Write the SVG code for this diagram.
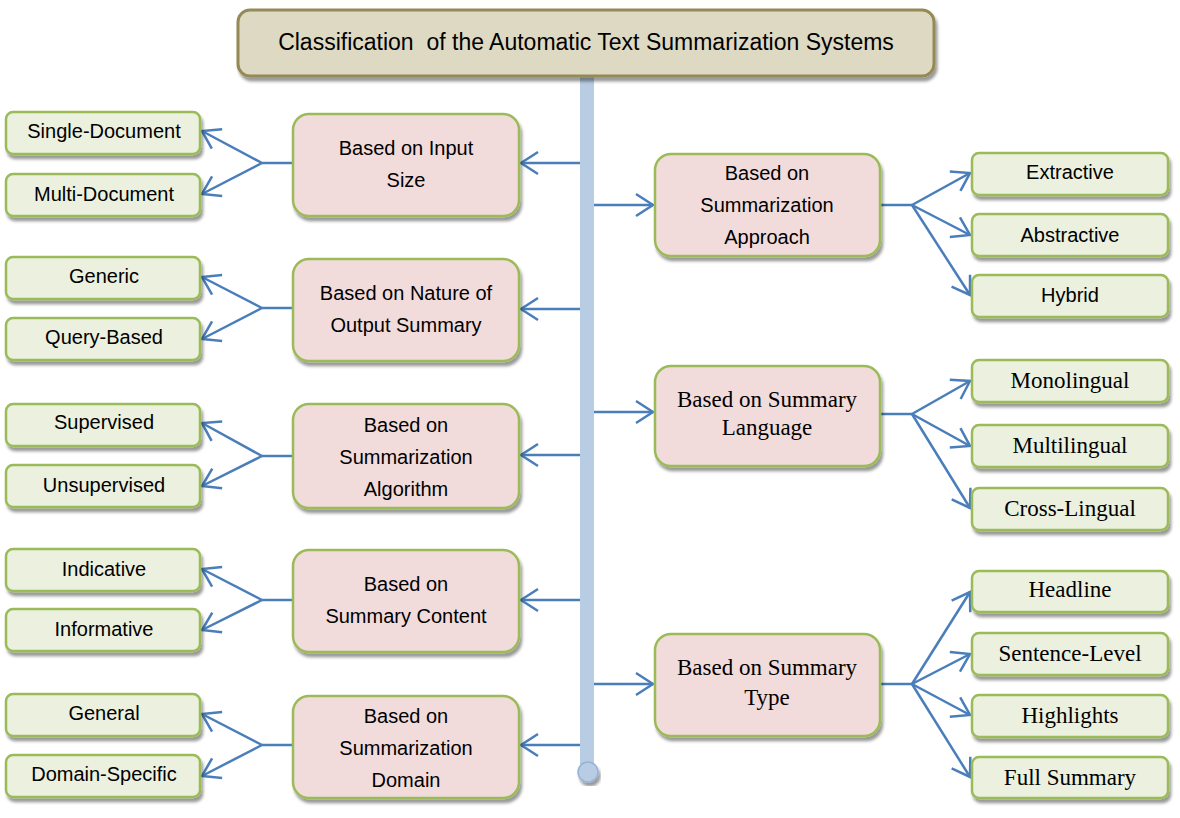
<svg xmlns="http://www.w3.org/2000/svg" width="1180" height="818" viewBox="0 0 1180 818">
<style>
.title{fill:#ddd9c3;stroke:#948a54;stroke-width:3}
.cat{fill:#f2dcdb;stroke:#9bbb59;stroke-width:2.5}
.leaf{fill:#ebf1de;stroke:#9bbb59;stroke-width:2.5}
.sans{font-family:"Liberation Sans",Arial,sans-serif;fill:#000;text-anchor:middle;font-size:20px}
.serif{font-family:"Liberation Serif","Times New Roman",serif;fill:#000;text-anchor:middle;font-size:23px}
.c{fill:none;stroke:#4a7ebb;stroke-width:2.5}
</style>
<defs>
<filter id="sh" x="-10%" y="-10%" width="125%" height="130%">
<feDropShadow dx="2" dy="4" stdDeviation="1.5" flood-color="#000" flood-opacity="0.4"/>
</filter>
<marker id="ah" markerUnits="userSpaceOnUse" markerWidth="22" markerHeight="26" viewBox="0 0 22 26" refX="19" refY="13" orient="auto">
<path d="M2,2 L19,13 L2,24" fill="none" stroke="#4a7ebb" stroke-width="2.5"/>
</marker>
</defs>
<rect width="1180" height="818" fill="#fff"/>

<g id="bar">
<rect x="580" y="74" width="14" height="698" fill="#b8cce4"/>
<circle cx="588" cy="772" r="10" fill="#b8cce4" stroke="#95b3d7" stroke-width="1.5" filter="url(#sh)"/>
</g>

<g id="title">
<rect class="title" x="238" y="10" width="696" height="66" rx="12" filter="url(#sh)"/>
<text class="sans" x="586" y="50" style="font-size:23px" xml:space="preserve">Classification  of the Automatic Text Summarization Systems</text>
</g>

<g id="connectors">
<line class="c" x1="580" y1="163" x2="521" y2="163" marker-end="url(#ah)"/>
<line class="c" x1="580" y1="309" x2="521" y2="309" marker-end="url(#ah)"/>
<line class="c" x1="580" y1="455" x2="521" y2="455" marker-end="url(#ah)"/>
<line class="c" x1="580" y1="600" x2="521" y2="600" marker-end="url(#ah)"/>
<line class="c" x1="580" y1="745" x2="521" y2="745" marker-end="url(#ah)"/>
<line class="c" x1="594" y1="205" x2="653" y2="205" marker-end="url(#ah)"/>
<line class="c" x1="594" y1="412" x2="653" y2="412" marker-end="url(#ah)"/>
<line class="c" x1="594" y1="684" x2="653" y2="684" marker-end="url(#ah)"/>
<polyline class="c" points="293,163 262,163"/>
<line class="c" x1="262" y1="163" x2="202" y2="131" marker-end="url(#ah)"/>
<line class="c" x1="262" y1="163" x2="202" y2="194" marker-end="url(#ah)"/>
<polyline class="c" points="293,308 262,308"/>
<line class="c" x1="262" y1="308" x2="202" y2="277" marker-end="url(#ah)"/>
<line class="c" x1="262" y1="308" x2="202" y2="339" marker-end="url(#ah)"/>
<polyline class="c" points="293,456 262,456"/>
<line class="c" x1="262" y1="456" x2="202" y2="423" marker-end="url(#ah)"/>
<line class="c" x1="262" y1="456" x2="202" y2="486" marker-end="url(#ah)"/>
<polyline class="c" points="293,600 262,600"/>
<line class="c" x1="262" y1="600" x2="202" y2="569" marker-end="url(#ah)"/>
<line class="c" x1="262" y1="600" x2="202" y2="630" marker-end="url(#ah)"/>
<polyline class="c" points="293,745 262,745"/>
<line class="c" x1="262" y1="745" x2="202" y2="714" marker-end="url(#ah)"/>
<line class="c" x1="262" y1="745" x2="202" y2="776" marker-end="url(#ah)"/>
<polyline class="c" points="880,205 912,205"/>
<line class="c" x1="912" y1="205" x2="970" y2="173" marker-end="url(#ah)"/>
<line class="c" x1="912" y1="205" x2="970" y2="235" marker-end="url(#ah)"/>
<line class="c" x1="912" y1="205" x2="970" y2="295" marker-end="url(#ah)"/>
<polyline class="c" points="880,414 912,414"/>
<line class="c" x1="912" y1="414" x2="970" y2="381" marker-end="url(#ah)"/>
<line class="c" x1="912" y1="414" x2="970" y2="446" marker-end="url(#ah)"/>
<line class="c" x1="912" y1="414" x2="970" y2="508" marker-end="url(#ah)"/>
<polyline class="c" points="880,684 912,684"/>
<line class="c" x1="912" y1="684" x2="970" y2="592" marker-end="url(#ah)"/>
<line class="c" x1="912" y1="684" x2="970" y2="654" marker-end="url(#ah)"/>
<line class="c" x1="912" y1="684" x2="970" y2="715" marker-end="url(#ah)"/>
<line class="c" x1="912" y1="684" x2="970" y2="777" marker-end="url(#ah)"/>
</g>

<g id="input-size">
<rect class="cat" x="293" y="114" width="226" height="102" rx="16" filter="url(#sh)"/>
<text class="sans" x="406" y="155">Based on Input</text>
<text class="sans" x="406" y="187">Size</text>
</g>
<g id="nature-output">
<rect class="cat" x="293" y="259" width="226" height="102" rx="16" filter="url(#sh)"/>
<text class="sans" x="406" y="300">Based on Nature of</text>
<text class="sans" x="406" y="332">Output Summary</text>
</g>
<g id="algorithm">
<rect class="cat" x="293" y="404" width="226" height="104" rx="16" filter="url(#sh)"/>
<text class="sans" x="406" y="432">Based on</text>
<text class="sans" x="406" y="464">Summarization</text>
<text class="sans" x="406" y="496">Algorithm</text>
</g>
<g id="content">
<rect class="cat" x="293" y="550" width="226" height="102" rx="16" filter="url(#sh)"/>
<text class="sans" x="406" y="591">Based on</text>
<text class="sans" x="406" y="623">Summary Content</text>
</g>
<g id="domain">
<rect class="cat" x="293" y="696" width="226" height="102" rx="16" filter="url(#sh)"/>
<text class="sans" x="406" y="723">Based on</text>
<text class="sans" x="406" y="755">Summarization</text>
<text class="sans" x="406" y="787">Domain</text>
</g>

<g id="single-document"><rect class="leaf" x="6" y="112" width="194" height="42" rx="7" filter="url(#sh)"/><text class="sans" x="104" y="138">Single-Document</text></g>
<g id="multi-document"><rect class="leaf" x="6" y="174" width="194" height="42" rx="7" filter="url(#sh)"/><text class="sans" x="104" y="201">Multi-Document</text></g>
<g id="generic"><rect class="leaf" x="6" y="257" width="194" height="42" rx="7" filter="url(#sh)"/><text class="sans" x="104" y="283">Generic</text></g>
<g id="query-based"><rect class="leaf" x="6" y="318" width="194" height="42" rx="7" filter="url(#sh)"/><text class="sans" x="104" y="344">Query-Based</text></g>
<g id="supervised"><rect class="leaf" x="6" y="404" width="194" height="42" rx="7" filter="url(#sh)"/><text class="sans" x="104" y="429">Supervised</text></g>
<g id="unsupervised"><rect class="leaf" x="6" y="465" width="194" height="42" rx="7" filter="url(#sh)"/><text class="sans" x="104" y="492">Unsupervised</text></g>
<g id="indicative"><rect class="leaf" x="6" y="549" width="194" height="42" rx="7" filter="url(#sh)"/><text class="sans" x="104" y="576">Indicative</text></g>
<g id="informative"><rect class="leaf" x="6" y="609" width="194" height="42" rx="7" filter="url(#sh)"/><text class="sans" x="104" y="636">Informative</text></g>
<g id="general"><rect class="leaf" x="6" y="694" width="194" height="42" rx="7" filter="url(#sh)"/><text class="sans" x="104" y="720">General</text></g>
<g id="domain-specific"><rect class="leaf" x="6" y="755" width="194" height="42" rx="7" filter="url(#sh)"/><text class="sans" x="104" y="781">Domain-Specific</text></g>

<g id="approach">
<rect class="cat" x="655" y="154" width="225" height="102" rx="16" filter="url(#sh)"/>
<text class="sans" x="767" y="180">Based on</text>
<text class="sans" x="767" y="212">Summarization</text>
<text class="sans" x="767" y="244">Approach</text>
</g>
<g id="language">
<rect class="cat" x="655" y="366" width="225" height="100" rx="16" filter="url(#sh)"/>
<text class="serif" x="767" y="407">Based on Summary</text>
<text class="serif" x="767" y="435">Language</text>
</g>
<g id="type">
<rect class="cat" x="655" y="634" width="225" height="102" rx="16" filter="url(#sh)"/>
<text class="serif" x="767" y="675">Based on Summary</text>
<text class="serif" x="767" y="705">Type</text>
</g>

<g id="extractive"><rect class="leaf" x="972" y="153" width="196" height="42" rx="7" filter="url(#sh)"/><text class="sans" x="1070" y="179">Extractive</text></g>
<g id="abstractive"><rect class="leaf" x="972" y="214" width="196" height="42" rx="7" filter="url(#sh)"/><text class="sans" x="1070" y="242">Abstractive</text></g>
<g id="hybrid"><rect class="leaf" x="972" y="275" width="196" height="42" rx="7" filter="url(#sh)"/><text class="sans" x="1070" y="302">Hybrid</text></g>
<g id="monolingual"><rect class="leaf" x="972" y="360" width="196" height="42" rx="7" filter="url(#sh)"/><text class="serif" x="1070" y="388">Monolingual</text></g>
<g id="multilingual"><rect class="leaf" x="972" y="425" width="196" height="42" rx="7" filter="url(#sh)"/><text class="serif" x="1070" y="453">Multilingual</text></g>
<g id="cross-lingual"><rect class="leaf" x="972" y="488" width="196" height="42" rx="7" filter="url(#sh)"/><text class="serif" x="1070" y="516">Cross-Lingual</text></g>
<g id="headline"><rect class="leaf" x="972" y="571" width="196" height="41" rx="7" filter="url(#sh)"/><text class="serif" x="1070" y="597">Headline</text></g>
<g id="sentence-level"><rect class="leaf" x="972" y="633" width="196" height="42" rx="7" filter="url(#sh)"/><text class="serif" x="1070" y="661">Sentence-Level</text></g>
<g id="highlights"><rect class="leaf" x="972" y="695" width="196" height="42" rx="7" filter="url(#sh)"/><text class="serif" x="1070" y="723">Highlights</text></g>
<g id="full-summary"><rect class="leaf" x="972" y="757" width="196" height="41" rx="7" filter="url(#sh)"/><text class="serif" x="1070" y="785">Full Summary</text></g>
</svg>
